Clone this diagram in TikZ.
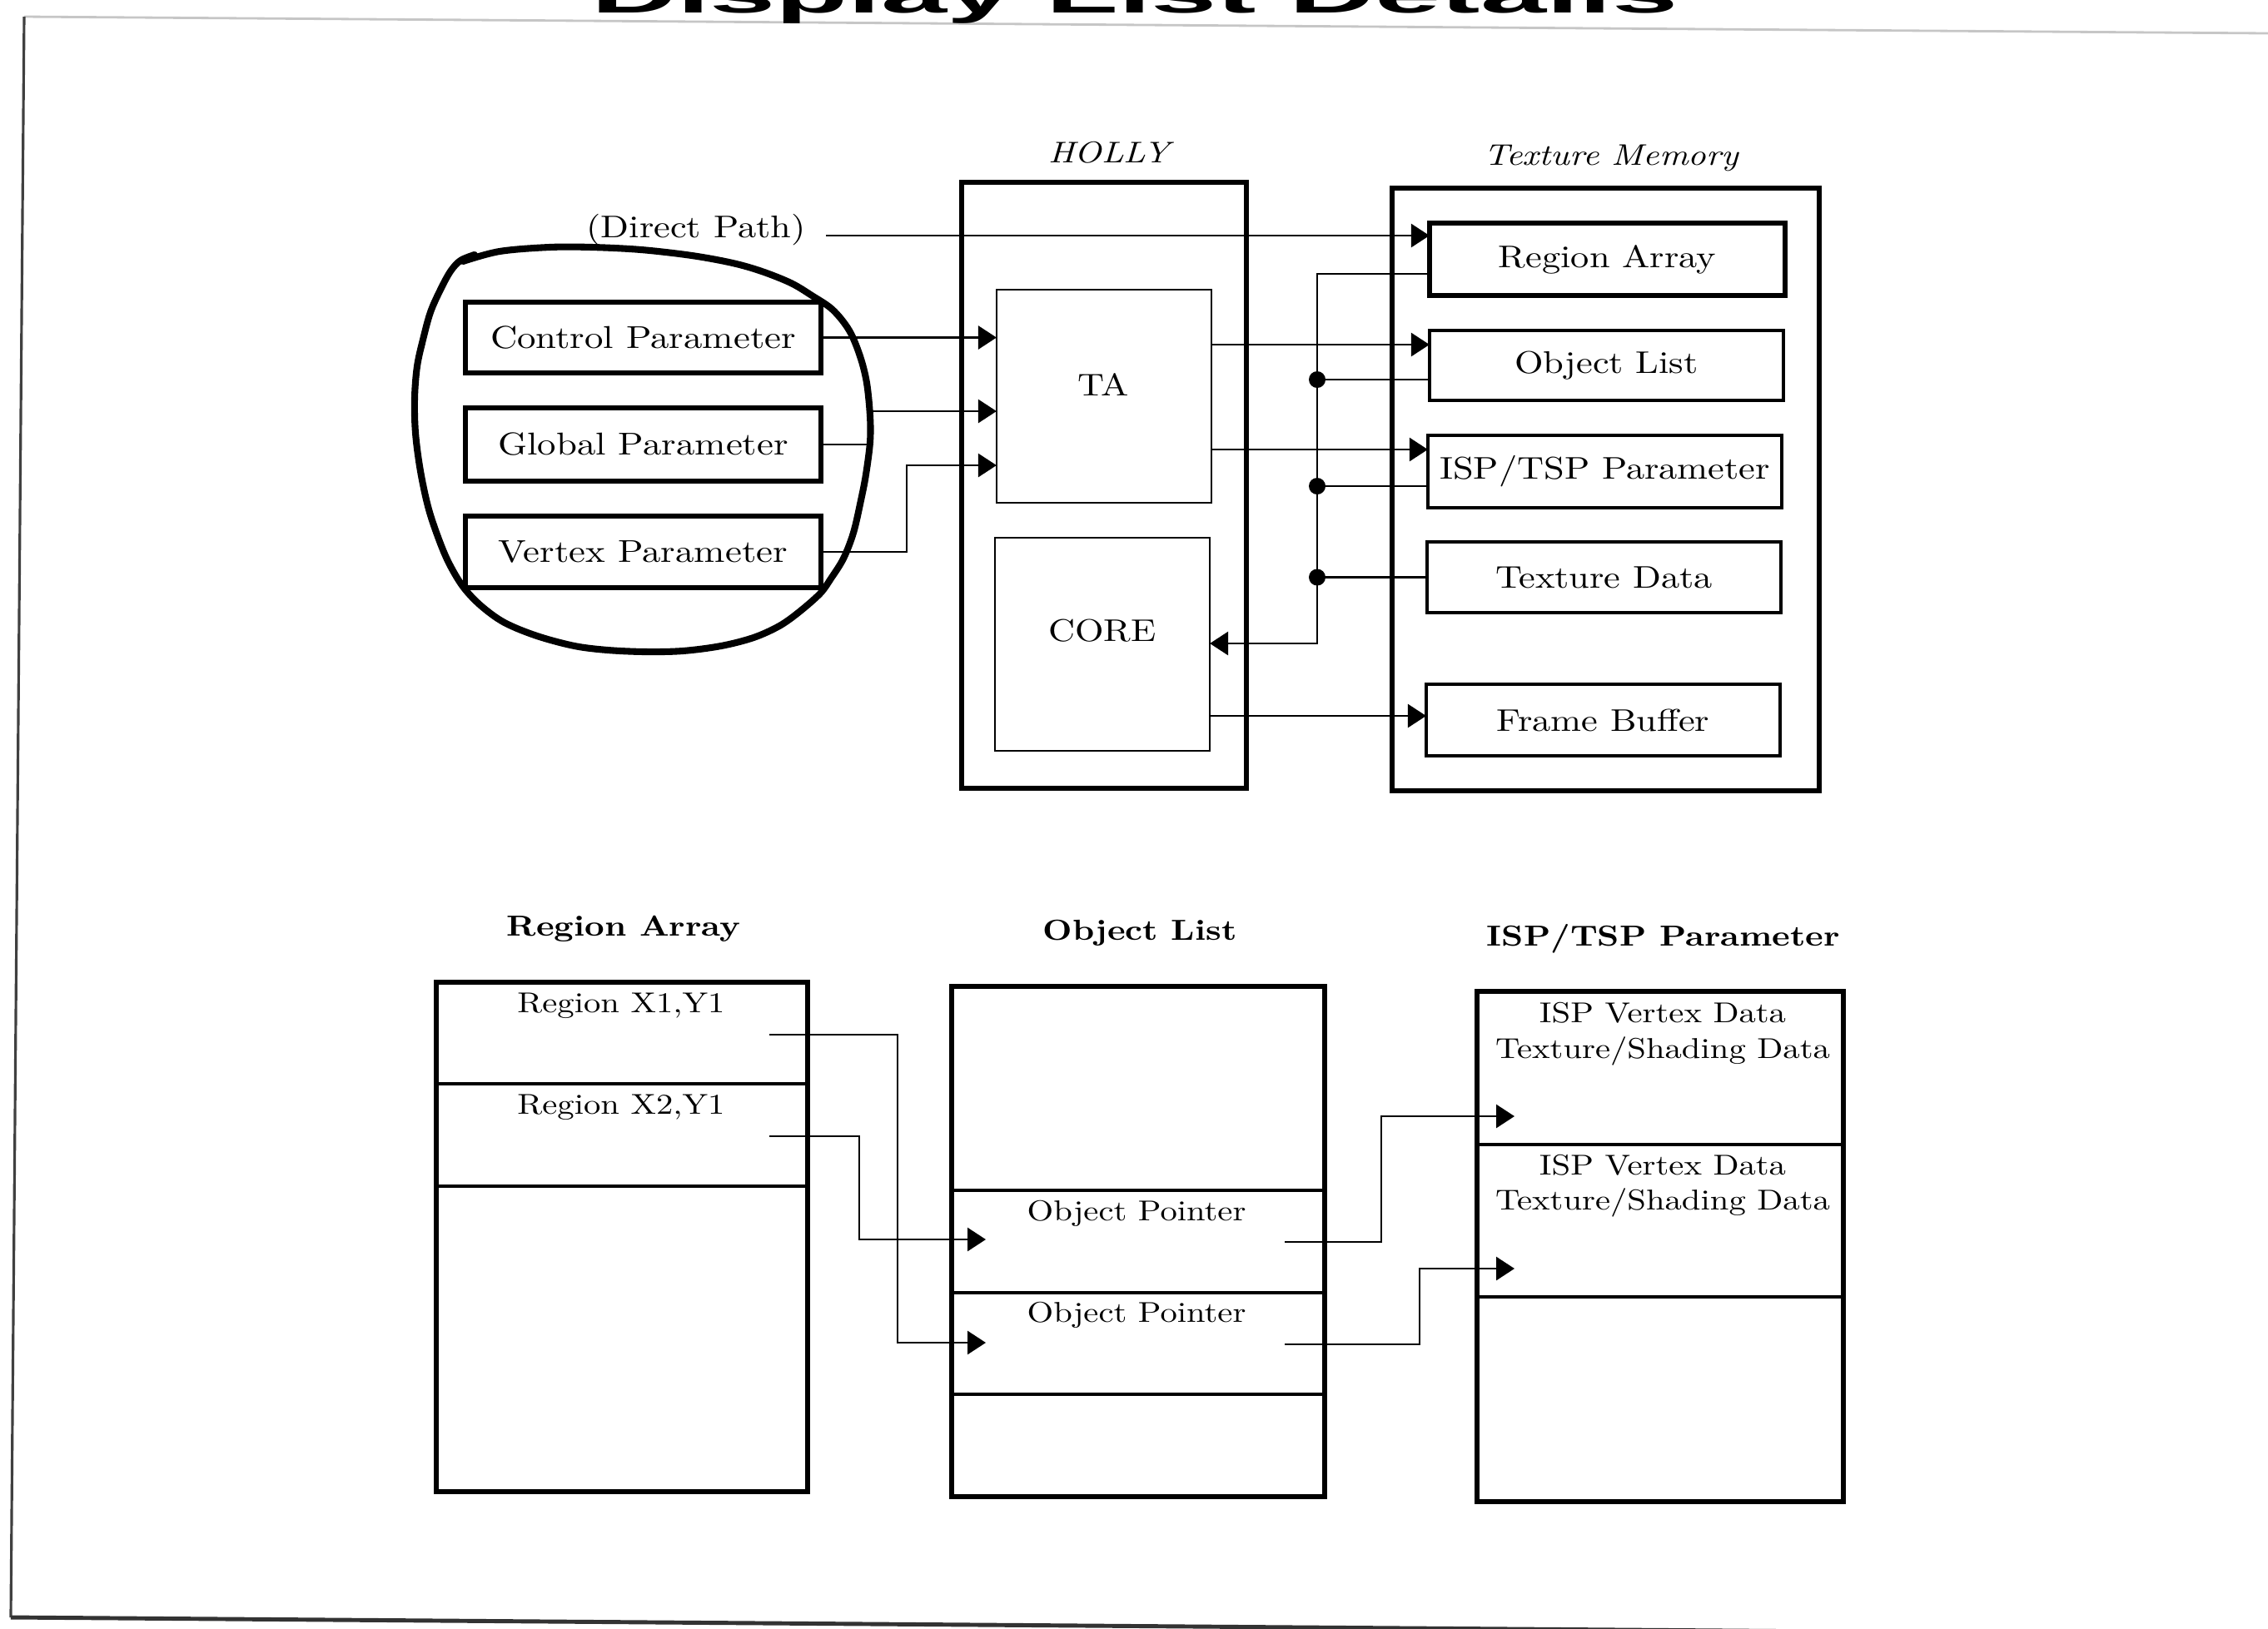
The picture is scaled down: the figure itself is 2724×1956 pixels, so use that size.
\documentclass[tikz,border=0pt]{standalone}
\usepackage{fontspec}
\setmainfont{Latin Modern Roman}[FakeStretch=1.18]
\newfontfamily\titlefont{Liberation Sans}
\usepackage{graphicx}
\usetikzlibrary{arrows.meta,calc}
\begin{document}
\begin{tikzpicture}[x=0.01cm,y=-0.01cm,
  every node/.style={inner sep=0pt,outer sep=0pt},
  conn/.style={line width=0.8pt},
  arr/.style={conn,-{Triangle[length=0.22cm,width=0.28cm]}},
  outerbox/.style={draw,line width=1.6pt},
  innerbox/.style={draw,line width=0.75pt},
  parambox/.style={draw,line width=1.9pt,font=\fontsize{10.8}{12.8}\selectfont},
  membox/.style={draw,line width=1.15pt,font=\fontsize{10.7}{12.8}\selectfont},
  listbox/.style={draw,line width=1.6pt},
  divider/.style={line width=1.0pt},
  uplab/.style={font=\fontsize{10.7}{12.8}\selectfont},
  lowlab/.style={font=\fontsize{9.8}{11.5}\selectfont},
  itlab/.style={font=\itshape\fontsize{10.2}{12}\selectfont},
  head/.style={font=\bfseries\fontsize{9.9}{11.5}\selectfont},
  bus dot/.style={fill=black}
]
\useasboundingbox (0,0) rectangle (2724,1956);

% page frame and title
\draw[gray!45,line width=0.8pt] (29,20) -- (2724,40);
\draw[black!75,line width=0.9pt] (29,20) -- (13,1943);
\draw[black!80,line width=1.4pt] (13,1943) -- (2724,1964);
\node[anchor=base] (title) at (1363,15) {\scalebox{2.3}[1]{\titlefont\bfseries\fontsize{17.6}{20}\selectfont Display List Details}};

% ---------------- upper diagram ----------------
\node[outerbox,minimum width=3.42cm,minimum height=7.28cm] (holly) at (1326,583) {};
\node[itlab] (hollylab) at (1332,183) {HOLLY};
\node[innerbox,minimum width=2.58cm,minimum height=2.56cm] (ta) at (1326,476) {};
\node[uplab] (talab) at (1325,462) {TA};
\node[innerbox,minimum width=2.58cm,minimum height=2.56cm] (core) at (1324,774) {};
\node[uplab] (corelab) at (1324,758) {CORE};

\node[outerbox,minimum width=5.13cm,minimum height=7.24cm] (tm) at (1928.5,588) {};
\node[itlab] (tmlab) at (1935,190) {Texture Memory};
\node[membox,line width=1.8pt,minimum width=4.27cm,minimum height=0.87cm] (ra) at (1930.5,311.5) {Region Array};
\node[membox,minimum width=4.25cm,minimum height=0.84cm] (ol) at (1929.5,439) {Object List};
\node[membox,minimum width=4.25cm,minimum height=0.87cm] (isp) at (1927.5,566.5) {ISP/TSP Parameter};
\node[membox,minimum width=4.25cm,minimum height=0.85cm] (td) at (1926.5,693.5) {Texture Data};
\node[membox,minimum width=4.25cm,minimum height=0.86cm] (fb) at (1925.5,865) {Frame Buffer};

\node[uplab] (dp) at (836,276) {(Direct Path)};
\node[parambox,minimum width=4.27cm,minimum height=0.85cm] (cp) at (772.5,405.5) {Control Parameter};
\node[parambox,minimum width=4.27cm,minimum height=0.88cm] (gp) at (772.5,534) {Global Parameter};
\node[parambox,minimum width=4.27cm,minimum height=0.86cm] (vp) at (772.5,663) {Vertex Parameter};

% hand-drawn loop
\draw[line width=2.3pt,line cap=round,line join=round] plot[smooth,tension=0.55] coordinates {
 (556,314) (600,302) (660,297) (711,297) (770,300) (831,307) (880,316) (915,326)
 (950,340) (975,355) (1000,372) (1020,397) (1033,428) (1041,460) (1045,500) (1045,531)
 (1040,570) (1034,601) (1025,640) (1013,671) (998,695) (985,713) (960,735) (936,752)
 (905,766) (866,776) (820,782) (775,783) (730,781) (690,776) (645,764) (606,748)
 (578,728) (557,706) (541,680) (529,653) (515,612) (505,566) (499,520) (498,478)
 (501,440) (508,408) (517,375) (529,348) (541,326) (553,313) (570,306)};

% level coordinates
\coordinate (ydp) at (0,283);
\coordinate (gpbend) at (1045,494);
\coordinate (vpbend) at (1089,559);
\coordinate (yol) at (0,414);
\coordinate (yisp) at (0,540);
\coordinate (yfb) at (0,860);
\coordinate (yra) at (0,329);
\coordinate (yol2) at (0,456);
\coordinate (yisp2) at (0,584);
\coordinate (ycore) at (0,773);
\coordinate (busx) at (1582,0);
\coordinate (dpstart) at ($(dp.east |- ydp)+(25,0)$);

% upper connectors
\draw[arr] (dpstart) -- (ra.west |- ydp);
\draw[arr] (cp.east) -- (cp.east -| ta.west);
\draw[arr] (gp.east) -| (gpbend) -- (gpbend -| ta.west);
\draw[arr] (vp.east) -| (vpbend) -- (vpbend -| ta.west);
\draw[arr] (ta.east |- yol) -- (ol.west |- yol);
\draw[arr] (ta.east |- yisp) -- (isp.west |- yisp);
\draw[arr] (core.east |- yfb) -- (fb.west |- yfb);
\draw[arr] (ra.west |- yra) -| (busx |- ycore) -- (core.east |- ycore);
\draw[conn] (ol.west |- yol2) -- (busx |- yol2);
\draw[conn] (isp.west |- yisp2) -- (busx |- yisp2);
\draw[conn] (td.west) -- (busx |- td.west);
\fill[bus dot] (busx |- yol2) circle[radius=0.1cm];
\fill[bus dot] (busx |- yisp2) circle[radius=0.1cm];
\fill[bus dot] (busx |- td.west) circle[radius=0.1cm];

% ---------------- lower diagram ----------------
\node[listbox,minimum width=4.46cm,minimum height=6.12cm] (ra2) at (747,1486) {};
\node[head] (ra2h) at (749,1116) {Region Array};
\node[lowlab] (rx1) at (746,1208) {Region X1,Y1};
\node[lowlab] (rx2) at (746,1330) {Region X2,Y1};
\coordinate (rd1) at (0,1302);
\coordinate (rd2) at (0,1425);
\draw[divider] (ra2.west |- rd1) -- (ra2.east |- rd1);
\draw[divider] (ra2.west |- rd2) -- (ra2.east |- rd2);

\node[listbox,minimum width=4.48cm,minimum height=6.13cm] (ol2) at (1367,1491.5) {};
\node[head] (ol2h) at (1369,1121) {Object List};
\node[lowlab] (op1) at (1365,1458) {Object Pointer};
\node[lowlab] (op2) at (1365,1580) {Object Pointer};
\coordinate (od1) at (0,1430);
\coordinate (od2) at (0,1553);
\coordinate (od3) at (0,1675);
\draw[divider] (ol2.west |- od1) -- (ol2.east |- od1);
\draw[divider] (ol2.west |- od2) -- (ol2.east |- od2);
\draw[divider] (ol2.west |- od3) -- (ol2.east |- od3);

\node[listbox,minimum width=4.40cm,minimum height=6.13cm] (isp2) at (1994,1497.5) {};
\node[head] (isp2h) at (1998,1128) {ISP/TSP Parameter};
\node[lowlab] (iv1) at (1997,1217) {ISP Vertex Data};
\node[lowlab] (ts1) at (1997,1263) {Texture/Shading Data};
\node[lowlab] (iv2) at (1997,1400) {ISP Vertex Data};
\node[lowlab] (ts2) at (1997,1445) {Texture/Shading Data};
\coordinate (id1) at (0,1375);
\coordinate (id2) at (0,1558);
\draw[divider] (isp2.west |- id1) -- (isp2.east |- id1);
\draw[divider] (isp2.west |- id2) -- (isp2.east |- id2);

% lower connectors
\coordinate (r1out) at (924,1243);
\coordinate (r1bend) at (1078,1613);
\coordinate (p2in) at (1184,1613);
\coordinate (r2out) at (924,1365);
\coordinate (r2bend) at (1032,1489);
\coordinate (p1in) at (1184,1489);
\coordinate (o1out) at (1543,1492);
\coordinate (o1bend) at (1659,1341);
\coordinate (i1in) at (1819,1341);
\coordinate (o2out) at (1543,1615);
\coordinate (o2bend) at (1705,1524);
\coordinate (i2in) at (1819,1524);
\draw[arr] (r1out) -| (r1bend) -- (p2in);
\draw[arr] (r2out) -| (r2bend) -- (p1in);
\draw[arr] (o1out) -| (o1bend) -- (i1in);
\draw[arr] (o2out) -| (o2bend) -- (i2in);
\end{tikzpicture}
\end{document}
